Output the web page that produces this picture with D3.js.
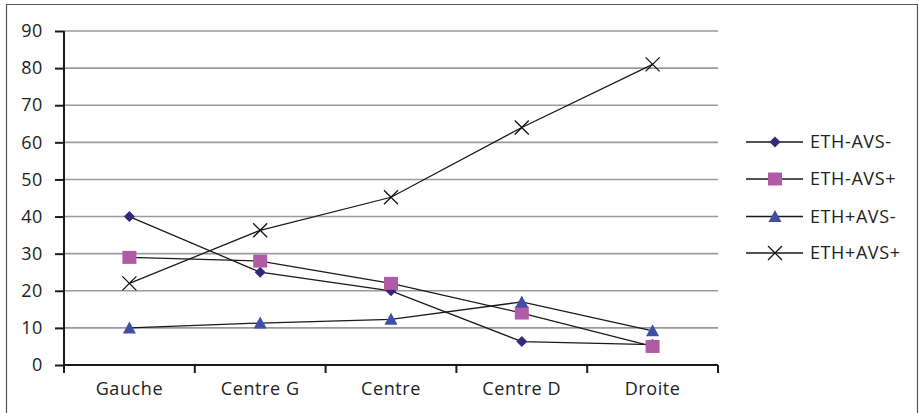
<!DOCTYPE html>
<html><head><meta charset="utf-8">
<script src="https://cdn.jsdelivr.net/npm/d3@7"></script>
<style>body{margin:0;background:#fff}svg{display:block}text{font-family:"Open Sans","Noto Sans",sans-serif;fill:#222}</style>
</head><body>
<svg id="c" width="919" height="413"></svg>
<script>
const categories = ["Gauche","Centre G","Centre","Centre D","Droite"];
const seriesNames = ["ETH-AVS-","ETH-AVS+","ETH+AVS-","ETH+AVS+"];
const ethAvsMinus = [40,25,20,6.3,5.5];
const ethAvsPlus = [29,28,22,14,5];
const ethPlusAvsMinus = [10,11.3,12.3,17,9.2];
const ethPlusAvsPlus = [22,36.3,45.2,64,81];
const yTicks = [0,10,20,30,40,50,60,70,80,90];

const series = [
  {name:seriesNames[0], values:ethAvsMinus, marker:"diamond", color:"#2f2a7c"},
  {name:seriesNames[1], values:ethAvsPlus, marker:"square", color:"#b15ba7"},
  {name:seriesNames[2], values:ethPlusAvsMinus, marker:"triangle", color:"#3f4fa6"},
  {name:seriesNames[3], values:ethPlusAvsPlus, marker:"x", color:"#111"}
];

const FS = 18, LS = "0.6px";
const svg = d3.select("#c");
const m = {l:64, r:718, t:31, b:365};
const x = d3.scaleBand().domain(categories).range([m.l, m.r]);
const y = d3.scaleLinear().domain([0,90]).range([m.b, m.t]);

// border
svg.append("path").attr("d","M6.5,420 V4.5 H917.5 V420").attr("fill","none").attr("stroke","#555").attr("stroke-width",1.2);

// gridlines
svg.append("g").selectAll("line").data(yTicks.filter(d=>d>0)).join("line")
  .attr("x1",m.l).attr("x2",m.r).attr("y1",d=>y(d)).attr("y2",d=>y(d))
  .attr("stroke","#9a9a9c").attr("stroke-width",1.6);

// y axis
const ya = svg.append("g").attr("transform",`translate(${m.l},0)`)
  .call(d3.axisLeft(y).tickValues(yTicks).tickSize(9).tickPadding(12));
ya.select(".domain").attr("stroke","#1a1a1a").attr("stroke-width",2).attr("d",`M0,${m.b}V${m.t}`);
ya.selectAll(".tick line").attr("stroke","#1a1a1a").attr("stroke-width",2);
ya.selectAll("text").attr("font-size",FS).attr("fill","#222").style("letter-spacing",LS).style("font-family",'"Open Sans","Noto Sans",sans-serif');

// x axis
const xa = svg.append("g").attr("transform",`translate(0,${m.b})`)
  .call(d3.axisBottom(x).tickSize(0).tickPadding(17));
xa.select(".domain").attr("stroke","#1a1a1a").attr("stroke-width",2).attr("d",`M${m.l},0H${m.r}`);
xa.selectAll("text").attr("font-size",FS).attr("fill","#222").style("letter-spacing",LS).style("font-family",'"Open Sans","Noto Sans",sans-serif');
const bounds = categories.map(c=>x(c)).concat([m.r]);
svg.append("g").selectAll("line").data(bounds).join("line")
  .attr("x1",d=>d).attr("x2",d=>d).attr("y1",m.b).attr("y2",m.b+8)
  .attr("stroke","#1a1a1a").attr("stroke-width",2);

const cx = c => x(c) + x.bandwidth()/2;

function drawMarker(g, type, color){
  if(type==="diamond") g.append("path").attr("d","M0,-5.5L5.5,0L0,5.5L-5.5,0Z").attr("fill",color);
  else if(type==="square") g.append("rect").attr("x",-7).attr("y",-6.5).attr("width",14).attr("height",13).attr("fill",color);
  else if(type==="triangle") g.append("path").attr("d","M0,-6.5L6.5,5.5L-6.5,5.5Z").attr("fill",color);
  else g.append("path").attr("d","M-7,-7L7,7M7,-7L-7,7").attr("stroke",color).attr("stroke-width",1.3).attr("fill","none");
}

const line = d3.line().x((d,i)=>cx(categories[i])).y(d=>y(d));
series.forEach(s=>{
  svg.append("path").datum(s.values).attr("d",line).attr("fill","none").attr("stroke","#1a1a1a").attr("stroke-width",1.3);
});
series.forEach(s=>{
  s.values.forEach((v,i)=>{
    const g = svg.append("g").attr("transform",`translate(${cx(categories[i])},${y(v)})`);
    drawMarker(g, s.marker, s.color);
  });
});

// legend
const legY = [142,179,216.5,253];
series.forEach((s,i)=>{
  const g = svg.append("g").attr("transform",`translate(0,${legY[i]})`);
  g.append("line").attr("x1",746).attr("x2",803).attr("stroke","#1a1a1a").attr("stroke-width",1.5);
  const mg = g.append("g").attr("transform","translate(775,0)");
  drawMarker(mg, s.marker, s.color);
  g.append("text").attr("x",810).attr("y",0).attr("dy","0.35em").attr("font-size",FS).style("letter-spacing",LS).text(s.name);
});
</script>
</body></html>
